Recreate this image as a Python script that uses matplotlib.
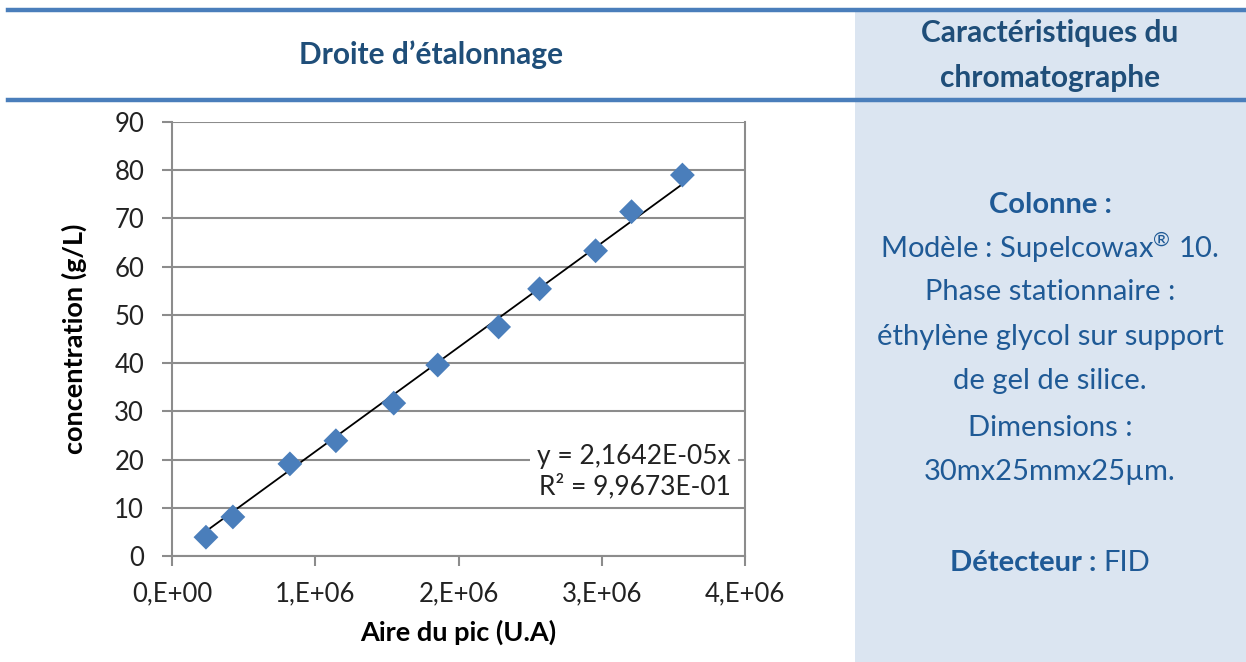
import matplotlib.pyplot as plt
import matplotlib.patches as patches
import numpy as np

plt.rcParams['font.family'] = ['Lato', 'DejaVu Sans']
plt.rcParams['mathtext.fontset'] = 'custom'
plt.rcParams['mathtext.rm'] = 'Lato'
plt.rcParams['mathtext.bf'] = 'Lato:bold'

# points d'étalonnage : aire du pic (U.A) / concentration (g/L)
aire = [0.237e6, 0.425e6, 0.823e6, 1.144e6, 1.548e6, 1.855e6,
        2.280e6, 2.566e6, 2.957e6, 3.208e6, 3.563e6]
conc = [3.9, 8.1, 19.1, 23.9, 31.7, 39.6, 47.5, 55.4, 63.3, 71.4, 79.0]

# régression linéaire passant par l'origine
pente = 2.1642e-05
r2 = 0.99673

x_ticks = [0, 1e6, 2e6, 3e6, 4e6]
x_labels = ['0,E+00', '1,E+06', '2,E+06', '3,E+06', '4,E+06']
y_ticks = list(range(0, 100, 10))


def sci(v):
    return f'{v:.4E}'.replace('.', ',')


W, H = 1246, 662
bleu = '#4A7EBB'
titre = '#1F4E79'
texte = '#1F5A96'
fond = '#DBE5F1'
gris = '#8C8C8C'

fig = plt.figure(figsize=(W / 100, H / 100), dpi=100)
fig.patch.set_facecolor('white')

# panneau de droite
fig.add_artist(patches.Rectangle((855 / W, 0), (W - 855) / W, (H - 10) / H,
                                 transform=fig.transFigure, facecolor=fond,
                                 edgecolor='none', zorder=0))
# filets bleus de l'en-tête
for yp in (10, 100):
    fig.add_artist(plt.Line2D([8 / W, 1], [1 - yp / H, 1 - yp / H],
                              transform=fig.transFigure, color=bleu, lw=3.2))

fig.text(431 / W, 1 - 55 / H, 'Droite d’étalonnage', ha='center', va='center',
         fontsize=21.5, fontweight='bold', color=titre)
fig.text(1050 / W, 1 - 33 / H, 'Caractéristiques du', ha='center', va='center',
         fontsize=21.5, fontweight='bold', color=titre)
fig.text(1050 / W, 1 - 78 / H, 'chromatographe', ha='center', va='center',
         fontsize=21.5, fontweight='bold', color=titre)

# texte du panneau
lignes = [
    (205, 'Colonne :', 'bold'),
    (248, 'Modèle : Supelcowax$^{®}$ 10.', 'normal'),
    (292, 'Phase stationnaire :', 'normal'),
    (337, 'éthylène glycol sur support', 'normal'),
    (381, 'de gel de silice.', 'normal'),
    (428, 'Dimensions :', 'normal'),
    (472, '30mx25mmx25µm.', 'normal'),
]
for yp, s, w in lignes:
    fig.text(1050 / W, 1 - yp / H, s, ha='center', va='center',
             fontsize=21, fontweight=w, color=texte)

# "Détecteur :" en gras suivi de "FID", l'ensemble centré
rend = fig.canvas.get_renderer()
tb = fig.text(0, 1 - 563 / H, 'Détecteur : ', ha='left', va='center',
              fontsize=21, fontweight='bold', color=texte)
tn = fig.text(0, 1 - 563 / H, 'FID', ha='left', va='center',
              fontsize=21, color=texte)
wb = tb.get_window_extent(rend).width
wn = tn.get_window_extent(rend).width
x0 = 1050 - (wb + wn) / 2
tb.set_x(x0 / W)
tn.set_x((x0 + wb) / W)

# graphique
ax = fig.add_axes([172 / W, (H - 556) / H, (745 - 172) / W, (556 - 122) / H])
ax.set_facecolor('white')
ax.set_xlim(0, 4e6)
ax.set_ylim(0, 90)
ax.set_xticks(x_ticks)
ax.set_xticklabels(x_labels)
ax.set_yticks(y_ticks)
ax.yaxis.grid(True, color=gris, lw=1.5)
ax.set_axisbelow(True)
for sp in ax.spines.values():
    sp.set_color(gris)
    sp.set_linewidth(1.5)
ax.spines['top'].set_visible(False)
ax.tick_params(axis='both', colors=gris, length=7, width=1.5,
               labelsize=18.5, labelcolor='#222222')
ax.tick_params(axis='y', pad=13)
ax.tick_params(axis='x', pad=11)

xs = np.array([min(aire), max(aire)])
ax.plot(xs, pente * xs, color='black', lw=1.3, zorder=3)
ax.scatter(aire, conc, marker='D', s=160, color=bleu, zorder=4,
           edgecolors='none')

ax.text(0.975, 0.194, f'y = {sci(pente)}x\nR² = {sci(r2)}',
        transform=ax.transAxes, ha='right', va='center', fontsize=19,
        color='#222222', linespacing=1.2, zorder=5,
        bbox=dict(facecolor='white', edgecolor='none', pad=5))

ax.set_xlabel('Aire du pic (U.A)', fontsize=19.5, fontweight='bold', labelpad=10)
ax.set_ylabel('concentration (g/L)', fontsize=19.5, fontweight='bold', labelpad=20)

fig.savefig('out.png', dpi=100)
